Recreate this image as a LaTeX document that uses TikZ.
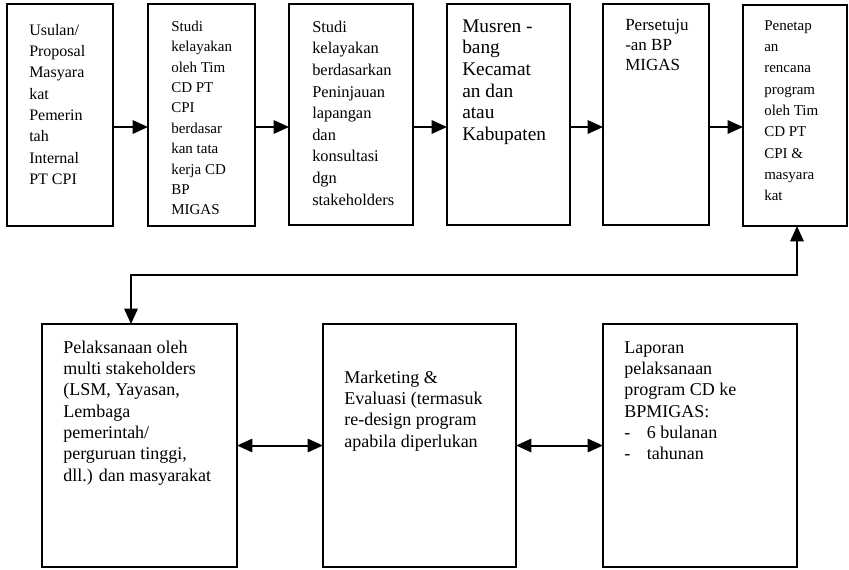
\documentclass[tikz,border=0pt]{standalone}
\usepackage{fontspec}
\setmainfont{Liberation Serif}
\usetikzlibrary{arrows.meta}
\tikzset{
  boxshape/.style={draw, line width=1.4pt, inner sep=0pt, outer sep=0pt},
  txt/.style={inner sep=0pt, align=left, anchor=north west},
  conn/.style={line width=1.5pt, -{Triangle[length=11.5pt,width=10pt]}},
  dconn/.style={line width=1.5pt, {Triangle[length=11.5pt,width=10pt]}-{Triangle[length=11.5pt,width=10pt]}},
}
\newcommand\mybox[5]{\node[boxshape, minimum width={(#4-#2)*0.75pt}, minimum height={(#5-#3)*0.75pt}] (#1) at ({(#2+#4)/2},{(#3+#5)/2}) {};}
\newcommand\mytext[6]{\node[txt, font=\fontsize{#4}{#5}\selectfont] (#1) at (#2,{#3-0.7*#5/0.75}) {\strut #6};}
\begin{document}
\begin{tikzpicture}[x=0.75pt, y=-0.75pt]
\useasboundingbox (0,0) rectangle (849,569);
% top row
\mybox{b1}{7}{4}{113}{226}
\mybox{b2}{148}{4}{255}{226}
\mybox{b3}{289}{4}{413}{225}
\mybox{b4}{447}{4}{570}{225}
\mybox{b5}{603}{4}{709}{225}
\mybox{b6}{743}{5}{847}{226}
% bottom row
\mybox{b7}{42}{324}{237}{567}
\mybox{b8}{323}{324}{516}{567}
\mybox{b9}{603}{324}{797}{567}
% texts
\mytext{t1}{29}{35}{12}{16}{Usulan/\\Proposal\\Masyara\\kat\\Pemerin\\tah\\Internal\\PT CPI}
\mytext{t2}{171}{31}{11.25}{15.3}{Studi\\kelayakan\\oleh Tim\\CD PT\\CPI\\berdasar\\kan tata\\kerja CD\\BP\\MIGAS}
\mytext{t3}{312}{32}{12.3}{16.2}{Studi\\kelayakan\\berdasarkan\\Peninjauan\\lapangan\\dan\\konsultasi\\dgn\\stakeholders}
\mytext{t4}{462}{32}{14.5}{16.2}{Musren -\\bang\\Kecamat\\an dan\\atau\\Kabupaten}
\mytext{t5}{625}{30}{12.75}{15}{Persetuju\\-an BP\\MIGAS}
\mytext{t6}{764}{30}{11.25}{16}{Penetap\\an\\rencana\\program\\oleh Tim\\CD PT\\CPI \&\\masyara\\kat}
\mytext{t7}{63}{353}{13.5}{16}{Pelaksanaan oleh\\multi stakeholders\\(LSM, Yayasan,\\Lembaga\\pemerintah/\\perguruan tinggi,\\dll.) dan masyarakat}
\mytext{t8}{344}{383}{13.5}{16}{Marketing \&\\Evaluasi (termasuk\\re-design program\\apabila diperlukan}
\mytext{t9}{624}{353}{13.5}{16}{Laporan\\pelaksanaan\\program CD ke\\BPMIGAS:\\\makebox[17pt][l]{-}6 bulanan\\\makebox[17pt][l]{-}tahunan}
% connectors
\coordinate (ya) at (0,127);
\draw[conn] (b1.east |- ya) -- (b2.west |- ya);
\draw[conn] (b2.east |- ya) -- (b3.west |- ya);
\draw[conn] (b3.east |- ya) -- (b4.west |- ya);
\draw[conn] (b4.east |- ya) -- (b5.west |- ya);
\draw[conn] (b5.east |- ya) -- (b6.west |- ya);
\coordinate (k1) at (131,275);
\coordinate (k2) at (797,275);
\draw[dconn] (b7.north -| k1) -- (k1) -- (k2) -- (b6.south -| k2);
\draw[dconn] (b7.east) -- (b8.west);
\draw[dconn] (b8.east) -- (b9.west);
\end{tikzpicture}
\end{document}
